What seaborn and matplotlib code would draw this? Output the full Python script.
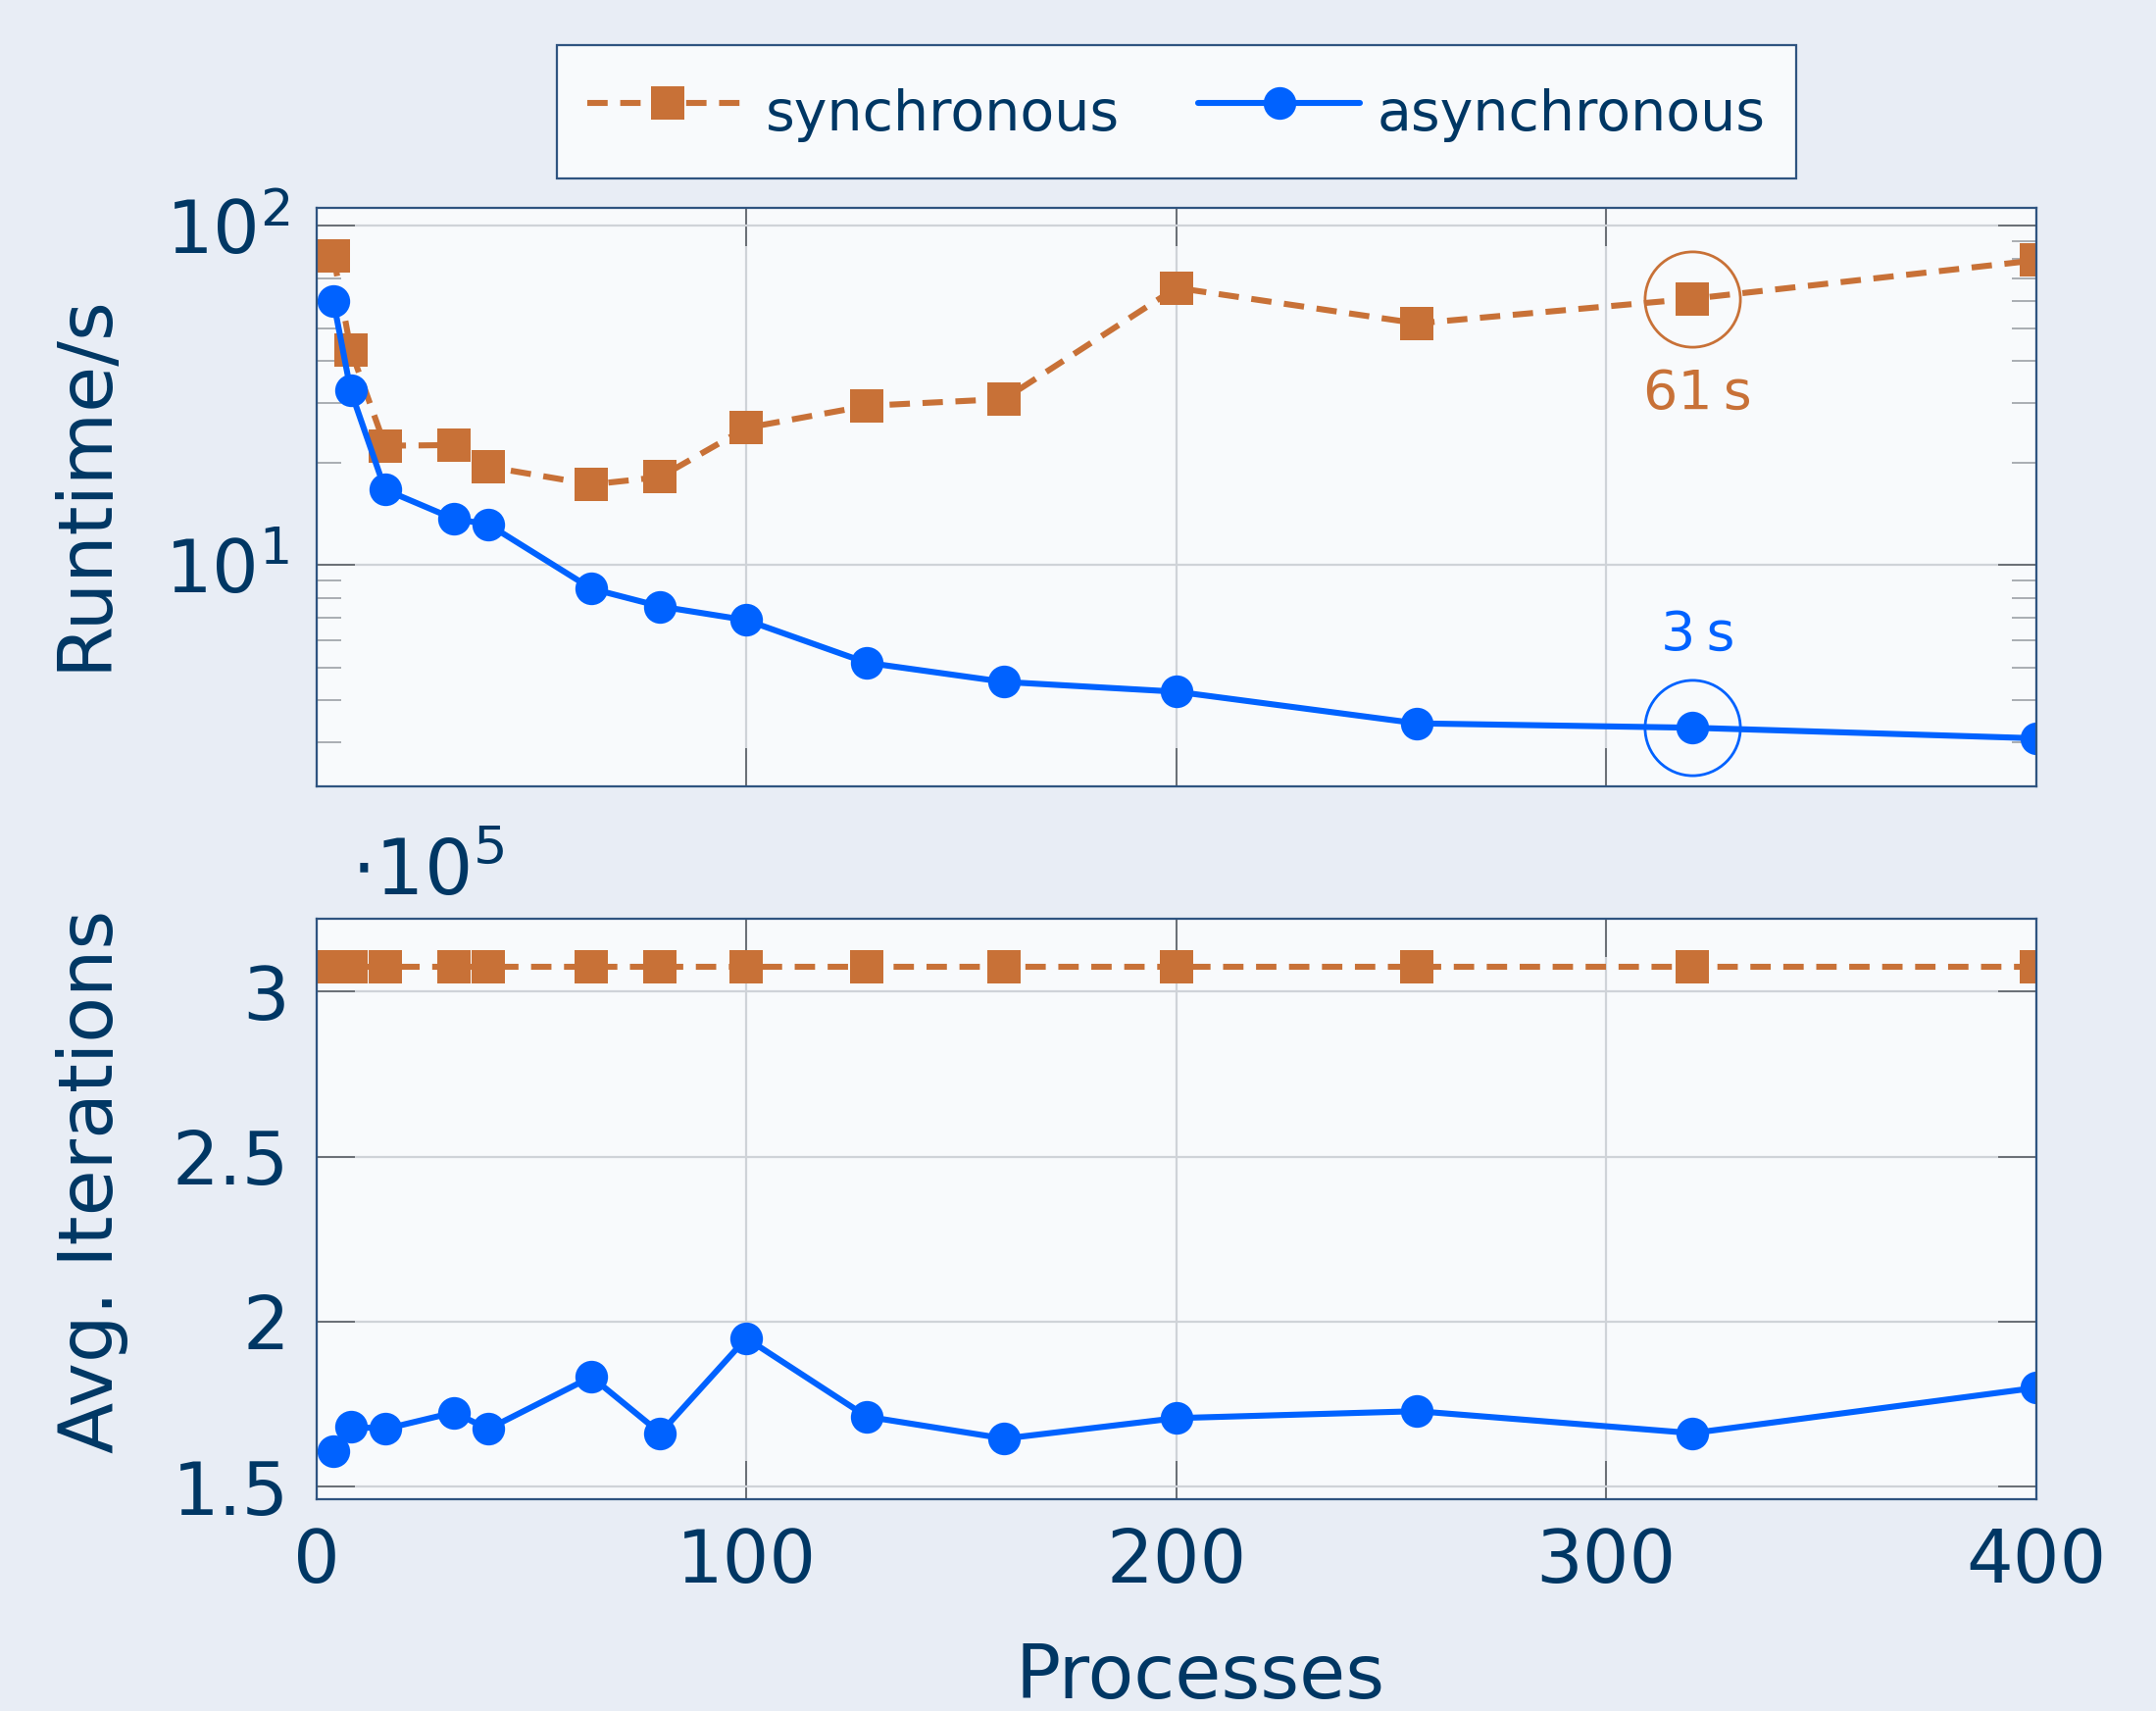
import numpy as np
import pandas as pd
import matplotlib
matplotlib.use('Agg')
import matplotlib.pyplot as plt
import seaborn as sns
from matplotlib.ticker import LogLocator, FixedLocator, NullFormatter

# ---------------- data ----------------
processes = [4, 8, 16, 32, 40, 64, 80, 100, 128, 160, 200, 256, 320, 400]
sync_runtime = [81.5, 43.2, 22.5, 22.6, 19.5, 17.3, 18.2, 25.4, 29.5, 30.9, 65.7, 51.6, 61.0, 79.2]
async_runtime = [59.9, 32.7, 16.7, 13.7, 13.2, 8.53, 7.56, 6.89, 5.16, 4.53, 4.24, 3.42, 3.32, 3.09]
sync_iters = [3.075] * 14  # x 1e5
async_iters = [1.608, 1.683, 1.675, 1.725, 1.675, 1.833, 1.6625, 1.95, 1.7125, 1.646, 1.708, 1.729, 1.6625, 1.80]
highlight_x = [320]
highlight_sync = [61.0]
highlight_async = [3.32]
series_labels = ['synchronous', 'asynchronous']

# ---------------- style ----------------
sns.set_theme(style='white')
plt.rcParams['font.family'] = ['DejaVu Sans']
plt.rcParams['mathtext.fontset'] = 'dejavusans'
plt.rcParams['lines.dashed_pattern'] = (3.4, 2.1)

TEXT = '#003764'
ORANGE = '#C87137'
BLUE = '#0062FF'
FIG_BG = '#E8EDF5'
AX_BG = '#F8FAFC'
SPINE = '#2F5480'
GRID = '#CFD3D8'

fig = plt.figure(figsize=(10.995, 8.725), dpi=200, facecolor=FIG_BG)
ax1 = fig.add_axes([0.1467, 0.5404, 0.7978, 0.3381])
ax2 = fig.add_axes([0.1467, 0.1238, 0.7978, 0.3392])

for ax in (ax1, ax2):
    ax.set_facecolor(AX_BG)
    for s in ax.spines.values():
        s.set_color(SPINE)
        s.set_linewidth(0.8)
    ax.grid(True, which='major', color=GRID, linewidth=0.8)
    ax.set_axisbelow(True)
    ax.tick_params(which='major', direction='in', length=14, width=0.7, color='#6A6F75',
                   top=True, bottom=True, left=True, right=True,
                   labelsize=27, labelcolor=TEXT, pad=10)
    ax.tick_params(which='minor', direction='in', length=9, width=0.7, color='#A9ADB2',
                   top=False, bottom=False, left=True, right=True)

line_kw = dict(linewidth=2.2, markersize=12, markeredgewidth=0)

# top: runtime
sns.lineplot(x=processes, y=sync_runtime, ax=ax1, color=ORANGE, marker='s',
             linestyle='--', label=series_labels[0], **line_kw)
sns.lineplot(x=processes, y=async_runtime, ax=ax1, color=BLUE, marker='o',
             linestyle='-', label=series_labels[1], **line_kw)
ax1.set_yscale('log')
ax1.set_ylim(2.23, 113)
ax1.set_xlim(0, 400)
ax1.xaxis.set_major_locator(FixedLocator([0, 100, 200, 300, 400]))
ax1.tick_params(axis='x', labelbottom=False)
ax1.yaxis.set_major_locator(LogLocator(base=10))
ax1.yaxis.set_minor_locator(LogLocator(base=10, subs=np.arange(2, 10)))
ax1.yaxis.set_minor_formatter(NullFormatter())
ax1.set_ylabel('Runtime/s', fontsize=27.5, color=TEXT, labelpad=16)
ax1.yaxis.label.set_y(0.527)
ax1.set_xlabel('')

# highlighted points
ax1.plot(highlight_x, highlight_sync, marker='o', markersize=35, mfc='none',
         mec=ORANGE, mew=1.0, linestyle='none')
ax1.plot(highlight_x, highlight_async, marker='o', markersize=35, mfc='none',
         mec=BLUE, mew=1.0, linestyle='none')
ax1.annotate(f'{highlight_sync[0]:.0f}\u2009s', (highlight_x[0], highlight_sync[0]),
             xytext=(2, -35), textcoords='offset points', ha='center', va='center',
             fontsize=20, color=ORANGE)
ax1.annotate(f'{highlight_async[0]:.0f}\u2009s', (highlight_x[0], highlight_async[0]),
             xytext=(2, 34), textcoords='offset points', ha='center', va='center',
             fontsize=20, color=BLUE)

# bottom: iterations
sns.lineplot(x=processes, y=sync_iters, ax=ax2, color=ORANGE, marker='s',
             linestyle='--', legend=False, **line_kw)
sns.lineplot(x=processes, y=async_iters, ax=ax2, color=BLUE, marker='o',
             linestyle='-', legend=False, **line_kw)
ax2.set_xlim(0, 400)
ax2.set_ylim(1.4625, 3.22)
ax2.xaxis.set_major_locator(FixedLocator([0, 100, 200, 300, 400]))
ax2.yaxis.set_major_locator(FixedLocator([1.5, 2.0, 2.5, 3.0]))
ax2.set_yticklabels(['1.5', '2', '2.5', '3'])
ax2.set_ylabel('Avg. Iterations', fontsize=27.5, color=TEXT, labelpad=16)
ax2.yaxis.label.set_y(0.547)
ax2.set_xlabel('Processes', fontsize=27.5, color=TEXT, labelpad=16)
ax2.xaxis.label.set_x(0.514)
ax2.tick_params(axis='x', pad=10)
ax2.text(0.02, 1.015, r'$\cdot 10^5$', transform=ax2.transAxes, fontsize=28,
         color=TEXT, ha='left', va='bottom')

# legend
handles, labels = ax1.get_legend_handles_labels()
ax1.get_legend().remove()
leg = fig.legend(handles[:2], labels[:2], loc='upper center', bbox_to_anchor=(0.5455, 0.9736),
                 ncol=2, fontsize=20.5, frameon=True, fancybox=False, handlelength=2.9,
                 handleheight=1.6, columnspacing=1.4, borderpad=0.55, handletextpad=0.3,
                 borderaxespad=0)
leg.get_frame().set_facecolor(AX_BG)
leg.get_frame().set_edgecolor(SPINE)
leg.get_frame().set_linewidth(0.8)
leg.get_frame().set_alpha(1)
for t in leg.get_texts():
    t.set_color(TEXT)

fig.savefig('out.png', dpi=200, facecolor=FIG_BG)
